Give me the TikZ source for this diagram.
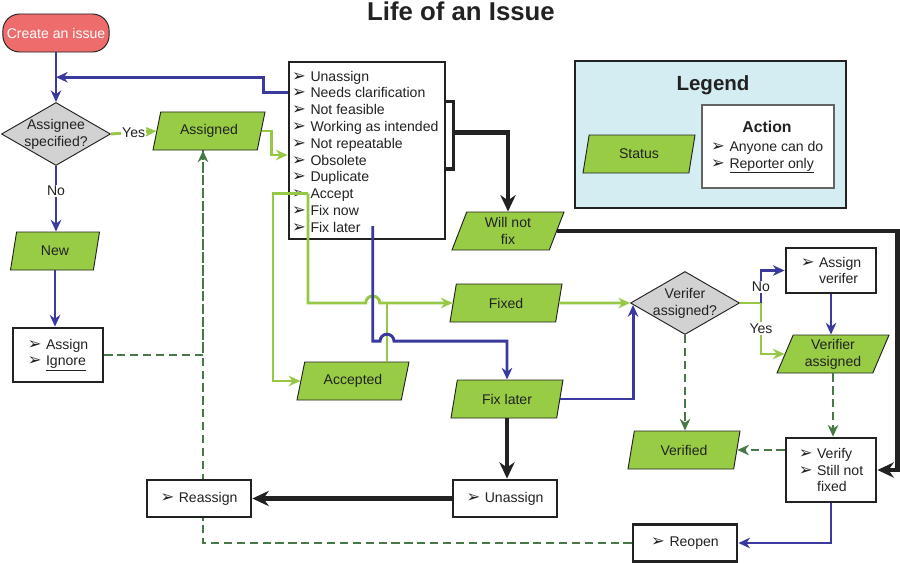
\documentclass[tikz,border=0pt]{standalone}
\usepackage{fontspec}
\setmainfont{Liberation Sans}
\newfontfamily\dingfont{DejaVu Sans}
\usetikzlibrary{shapes.geometric,arrows.meta,calc,backgrounds}

\definecolor{lnblue}{RGB}{58,58,158}
\definecolor{lngreen}{RGB}{150,200,70}
\definecolor{stgreen}{RGB}{152,204,68}
\definecolor{dashgreen}{RGB}{72,120,72}
\definecolor{decgray}{RGB}{210,210,210}
\definecolor{issuered}{RGB}{238,108,108}
\definecolor{legblue}{RGB}{212,237,243}
\definecolor{dark}{RGB}{34,34,34}

\newcommand\bul{\makebox[1.3em][l]{\dingfont\fontsize{14}{12}\selectfont ➢}}
\def\rowgap{16.8}

\begin{document}
\begin{tikzpicture}[x=0.03cm, y=-0.03cm, font=\fontsize{12}{14.4}\selectfont, text=dark]
        \tikzstyle{status}    = [trapezium, trapezium left angle=63.4, trapezium right angle=116.6, trapezium stretches body=true, draw=dark, line width=0.8pt, fill=stgreen, minimum width=3.36cm, minimum height=1.14cm, inner sep=1pt, align=center]
        \tikzstyle{decide}    = [diamond, shape aspect=1.73, draw=dark, line width=0.8pt, fill=decgray, minimum width=3.27cm, minimum height=1.89cm, inner sep=-1.5pt, align=center]
        \tikzstyle{action}    = [rectangle, draw=dark, line width=2.4pt, fill=white, align=left, inner sep=2pt]
        \tikzstyle{item}      = [anchor=base west, inner sep=0pt]
        \tikzstyle{lbl}       = [fill=white, inner sep=1pt]
        \tikzstyle{blueflow}  = [draw=lnblue, line width=2.5pt]
        \tikzstyle{greenflow} = [draw=lngreen, line width=2.5pt]
        \tikzstyle{dashflow}  = [draw=dashgreen, line width=1.5pt, dash pattern=on 7pt off 4pt]
        \tikzstyle{thickflow} = [draw=dark, line width=4.2pt]
        \tikzstyle{pointed}   = [-{Stealth[length=10pt, width=9pt]}]
        \tikzstyle{bigpointed}= [-{Stealth[length=14pt, width=13pt]}]

        \useasboundingbox (0,0) rectangle (900,562);

        \node (title) at (461,11) {\fontsize{22}{26}\selectfont\bfseries Life of an Issue};

        \node [rectangle, rounded corners=0.5cm, draw=dark, line width=0.8pt, fill=issuered, text=white, minimum width=3.18cm, minimum height=1.14cm] (create) at (56,33) {Create an issue};
        \node [decide] (asg) at (56,134) {Assignee\\specified?};
        \node [status] (assigned) at (209,131) {Assigned};
        \node [status, minimum width=2.67cm] (new) at (55,251) {New};
        \node [action, minimum width=2.7cm, minimum height=1.62cm] (choose) at (58,355) {\bul Assign\\\bul\underline{Ignore}};

        \node [action, minimum width=4.68cm, minimum height=5.31cm] (reasons) at (367,150.5) {};
        \foreach \reason [count=\i] in {Unassign, Needs clarification, Not feasible, Working as intended, Not repeatable, Obsolete, Duplicate, Accept, Fix now, Fix later}
                \node [item] (r\i) at (292, {81 + (\i-1)*\rowgap}) {\bul\reason};

        \node [status] (wontfix) at (508,231) {Will not\\fix};
        \node [status] (fixed) at (506,303) {Fixed};
        \node [status] (accepted) at (353,381) {Accepted};
        \node [status] (later) at (507,399) {Fix later};
        \node [decide] (verq) at (685,303) {Verifer\\assigned?};
        \node [action, minimum width=2.7cm, minimum height=1.35cm] (getver) at (831,270.5) {\bul Assign\\\hspace*{1.3em}verifer};
        \node [status] (verasg) at (833,354) {Verifier\\assigned};
        \node [action, minimum width=2.7cm, minimum height=1.92cm] (verify) at (831,470) {\bul Verify\\\bul Still not\\\hspace*{1.3em}fixed};
        \node [status] (verified) at (684,450) {Verified};
        \node [action, minimum width=3.12cm, minimum height=1.11cm] (reopen) at (685,543) {\bul Reopen};
        \node [action, minimum width=3.12cm, minimum height=1.11cm] (unasg) at (505,498.5) {\bul Unassign};
        \node [action, minimum width=3.12cm, minimum height=1.11cm] (reasg) at (199,498.5) {\bul Reassign};

        \node [rectangle, draw=dark, line width=2pt, fill=legblue, minimum width=8.13cm, minimum height=4.41cm] (legend) at (710.5,134.5) {};
        \node (legtitle) at (713,85) {\fontsize{17.5}{20}\selectfont\bfseries Legend};
        \node [status] (legstatus) at (639,154) {Status};
        \node [rectangle, draw=dark!70, line width=0.9pt, fill=white, minimum width=3.96cm, minimum height=2.49cm] (actbox) at (768,146.5) {};
        \node (acttitle) at (767,127) {\fontsize{13.5}{16}\selectfont\bfseries Action};
        \node [item] (act1) at (711,151) {\bul Anyone can do};
        \node [item] (act2) at (711,168) {\bul\underline{Reporter only}};

        \coordinate (join) at ($(create.south)!0.5!(asg.north)$);
        \coordinate (acc) at ($(r8.base west)+(16,-5)$);
        \coordinate (fl) at ($(r10.base east)+(12,-6)$);
        \coordinate (blueturn) at ($(fl)+(0,115)$);
        \coordinate (accup) at ($(accepted.north)+(34,0)$);
        \coordinate (split) at ($(verq.east)+(21,0)$);

        \draw [blueflow, pointed] (create) -- (asg);
        \draw [blueflow, pointed] ($(reasons.west |- r2.base)+(0,-5)$) -- ++(-24,0) |- (join);
        \draw [greenflow, pointed] (asg.east) -- node[lbl]{Yes} (assigned.west);
        \draw [greenflow, pointed] (assigned.east) -- ++(10,0) |- ($(reasons.west |- r6.base)+(0,-10)$);
        \draw [blueflow, pointed] (asg.south) -- node[lbl, pos=0.38]{No} (asg.south |- new.north);
        \draw [blueflow, pointed] (new.south) -- (new.south |- choose.north);

        \begin{scope}[on background layer]
                \draw [dashflow, pointed] (reopen.west) -| ([xshift=-0.18cm]assigned.south);
                \draw [dashflow] (choose.east) -| ([xshift=-0.18cm]assigned.south);
        \end{scope}

        \draw [greenflow, pointed] (acc) -- ++(-35,0) |- (accepted.west);
        \draw [greenflow, pointed] (acc) -- (acc |- fixed.west) -- ($(fl |- fixed.west)+(-7,0)$) arc[start angle=180, end angle=0, radius=0.21cm] -- (fixed.west);
        \draw [greenflow] (accup) -- (accup |- fixed.west);
        \draw [blueflow, pointed] (fl) -- (blueturn) -- ($(accup |- blueturn)+(-7,0)$) arc[start angle=180, end angle=0, radius=0.21cm] -| (later.north);

        \draw [thickflow, line width=3.2pt] ($(reasons.east |- r3.base)+(0,-13)$) -- ++(7,0) |- ($(reasons.east |- r6.base)+(0,4)$);
        \draw [thickflow, bigpointed] ($(reasons.east)+(7,-18)$) -| (wontfix.north);
        \draw [thickflow, bigpointed] (wontfix.east) -- ++(340,0) |- (verify.east);

        \draw [greenflow, pointed] (fixed.east) -- (verq.west);
        \draw [blueflow, pointed] (later.east) -| ($(verq.west)+(3,2)$);
        \draw [greenflow] (verq.east) -- (split);
        \draw [blueflow, pointed] (split) |- node[lbl, pos=0.25]{No} (getver.west);
        \draw [greenflow, pointed] (split) |- node[lbl, pos=0.25]{Yes} (verasg.west);
        \draw [blueflow, pointed] (getver.south) -- (getver.south |- verasg.north);
        \draw [dashflow, pointed] (verasg.south) -- (verasg.south |- verify.north);
        \draw [dashflow, pointed] (verq.south) -- (verq.south |- verified.north);
        \draw [dashflow, pointed] (verify.west |- verified.east) -- (verified.east);
        \draw [blueflow, pointed] (verify.south) |- (reopen.east);
        \draw [thickflow, bigpointed] (later.south) -- (later.south |- unasg.north);
        \draw [thickflow, bigpointed] (unasg.west) -- (reasg.east);
\end{tikzpicture}
\end{document}
